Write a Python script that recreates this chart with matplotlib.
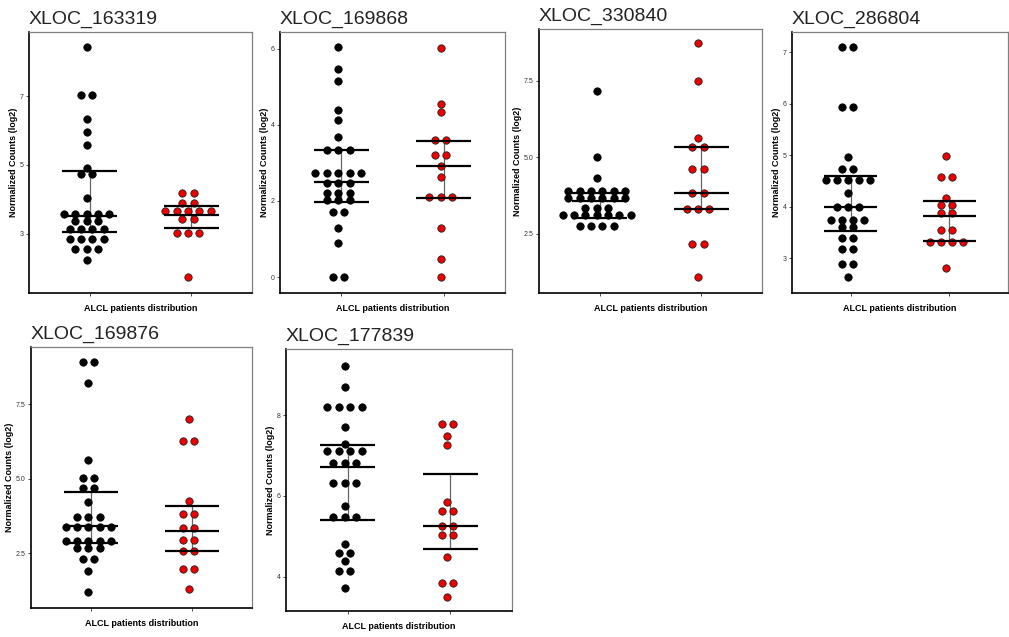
import numpy as np
import matplotlib
matplotlib.use("Agg")
import matplotlib.pyplot as plt

plt.rcParams['font.family'] = ['Liberation Sans', 'DejaVu Sans']

# =========================
# DATA
# =========================

genes = ["XLOC_163319", "XLOC_169868", "XLOC_330840",
         "XLOC_286804", "XLOC_169876", "XLOC_177839"]

black_163319 = [8.42, 7.02, 7.02, 6.32, 5.97, 5.59, 4.91, 4.73, 4.73, 4.05,
                3.58, 3.58, 3.58, 3.58, 3.58, 3.38, 3.38, 3.38,
                3.15, 3.15, 3.15, 3.15, 2.85, 2.85, 2.85, 2.85,
                2.56, 2.56, 2.56, 2.23]
red_163319 = [4.19, 4.19, 3.88, 3.88, 3.67, 3.67, 3.67, 3.67, 3.67,
              3.42, 3.42, 3.01, 3.01, 3.01, 1.74]

black_169868 = [6.04, 5.47, 5.16, 4.40, 4.14, 3.68, 3.34, 3.34, 3.34,
                2.74, 2.74, 2.74, 2.74, 2.74, 2.46, 2.46, 2.46,
                2.22, 2.22, 2.22, 2.02, 2.02, 2.02, 1.70, 1.70,
                1.30, 0.89, 0.0, 0.0]
red_169868 = [6.02, 4.54, 4.33, 3.60, 3.60, 3.20, 3.20, 2.92, 2.63,
              2.10, 2.10, 2.10, 1.30, 0.48, 0.0]

black_330840 = [7.17, 5.01, 4.33, 3.91, 3.91, 3.91, 3.91, 3.91, 3.91,
                3.67, 3.67, 3.67, 3.67, 3.67, 3.67, 3.35, 3.35, 3.35,
                3.13, 3.13, 3.13, 3.13, 3.13, 3.13, 3.13,
                2.75, 2.75, 2.75, 2.75]
red_330840 = [8.72, 7.50, 5.64, 5.34, 5.34, 4.61, 4.61, 3.84, 3.84,
              3.32, 3.32, 3.32, 2.17, 2.17, 1.09]

black_286804 = [7.10, 7.10, 5.93, 5.93, 4.96, 4.74, 4.74,
                4.53, 4.53, 4.53, 4.53, 4.53, 4.26, 4.00, 4.00, 4.00,
                3.74, 3.74, 3.74, 3.74, 3.60, 3.60, 3.40, 3.40,
                3.19, 3.19, 2.90, 2.90, 2.64]
red_286804 = [4.99, 4.58, 4.58, 4.18, 4.04, 4.04, 3.89, 3.89, 3.56, 3.56,
              3.32, 3.32, 3.32, 3.32, 2.82]

black_169876 = [8.90, 8.90, 8.19, 5.61, 5.01, 5.01, 4.70, 4.70, 4.21,
                3.72, 3.72, 3.72, 3.37, 3.37, 3.37, 3.37, 3.37,
                2.92, 2.92, 2.92, 2.92, 2.92, 2.69, 2.69, 2.69,
                2.30, 2.30, 1.90, 1.19]
red_169876 = [7.00, 6.25, 6.25, 4.24, 3.83, 3.83, 3.36, 3.36, 2.95, 2.95,
              2.58, 2.58, 1.98, 1.98, 1.29]

black_177839 = [9.22, 8.68, 8.21, 8.21, 8.21, 8.21, 7.70, 7.28,
                7.10, 7.10, 7.10, 7.10, 6.82, 6.82, 6.82, 6.33, 6.33, 6.33,
                5.76, 5.47, 5.47, 5.47, 4.82, 4.60, 4.60, 4.39,
                4.15, 4.15, 3.72]
red_177839 = [7.78, 7.78, 7.49, 7.26, 5.84, 5.63, 5.63, 5.25, 5.25,
              5.03, 5.03, 4.49, 3.86, 3.86, 3.51]

# lower / middle / upper lines (black group, red group)
stats_black = [(3.06, 3.52, 4.82), (1.96, 2.50, 3.35), (3.02, 3.56, 3.84),
               (3.54, 4.00, 4.60), (2.85, 3.40, 4.55), (5.41, 6.72, 7.27)]
stats_red = [(3.18, 3.54, 3.82), (2.07, 2.91, 3.58), (3.30, 3.84, 5.34),
             (3.34, 3.83, 4.12), (2.57, 3.26, 4.07), (4.70, 5.27, 6.55)]

y_ticks = [[3, 5, 7], [0, 2, 4, 6], [2.5, 5.0, 7.5],
           [3, 4, 5, 6, 7], [2.5, 5.0, 7.5], [4, 6, 8]]
y_ticklabels = [["3", "5", "7"], ["0", "2", "4", "6"], ["2.5", "5.0", "7.5"],
                ["3", "4", "5", "6", "7"], ["2.5", "5.0", "7.5"], ["4", "6", "8"]]
y_limits = [(1.28, 8.86), (-0.42, 6.44), (0.57, 9.19),
            (2.33, 7.39), (0.67, 9.41), (3.16, 9.63)]

blacks = [black_163319, black_169868, black_330840, black_286804, black_169876, black_177839]
reds = [red_163319, red_169868, red_330840, red_286804, red_169876, red_177839]

# panel boxes in pixels: left, top, right, bottom
W, H = 1009, 637
boxes = [(29, 32, 252, 293), (280, 32, 505, 293), (539, 29, 762, 293),
         (792, 32, 1008, 293), (31, 347, 252, 608), (286, 349, 512, 611)]

# =========================
# PLOTTING
# =========================

fig = plt.figure(figsize=(W / 100, H / 100), dpi=100)

DX = 0.112      # horizontal spacing of stacked dots
SHIFT = -0.03   # dots sit a little left of the tick


def dot_positions(values, center):
    xs, ys = [], []
    vals = np.array(values)
    for v in np.unique(vals):
        n = int(np.sum(vals == v))
        offs = (np.arange(n) - (n - 1) / 2) * DX
        xs.extend(center + SHIFT + offs)
        ys.extend([v] * n)
    return xs, ys


for i in range(6):
    l, t, r, b = boxes[i]
    ax = fig.add_axes([l / W, 1 - b / H, (r - l) / W, (b - t) / H])

    for x0, vals, st, fc in [(1, blacks[i], stats_black[i], "black"),
                             (2, reds[i], stats_red[i], "#ee0000")]:
        lo, mid, hi = st
        ax.plot([x0, x0], [lo, hi], color="#666666", lw=0.9, zorder=1)
        xs, ys = dot_positions(vals, x0)
        ax.scatter(xs, ys, s=28, c=fc, edgecolors="#222222" if fc != "black" else "black",
                   linewidths=0.6, zorder=2)
        for yv in (lo, mid, hi):
            ax.plot([x0 - 0.27, x0 + 0.27], [yv, yv], color="black", lw=1.6,
                    solid_capstyle="butt", zorder=3)

    ax.set_xlim(0.4, 2.6)
    ax.set_ylim(*y_limits[i])
    ax.set_xticks([1, 2])
    ax.set_xticklabels(["", ""])
    ax.set_yticks(y_ticks[i])
    ax.set_yticklabels(y_ticklabels[i], fontsize=5, color="#333333")
    ax.tick_params(length=2, width=0.6, color="#333333", pad=2)

    for side in ["top", "right"]:
        ax.spines[side].set_color("#808080")
        ax.spines[side].set_linewidth(0.9)
    for side in ["left", "bottom"]:
        ax.spines[side].set_color("black")
        ax.spines[side].set_linewidth(1.2)

    ax.set_ylabel("Normalized Counts (log2)", fontsize=6.5, fontweight="bold", labelpad=1)
    ax.set_xlabel("ALCL patients distribution", fontsize=6.5, fontweight="bold", labelpad=4)
    ax.set_title(genes[i], loc="left", fontsize=14, color="#222222", pad=6)

fig.savefig("out.png", dpi=100)
